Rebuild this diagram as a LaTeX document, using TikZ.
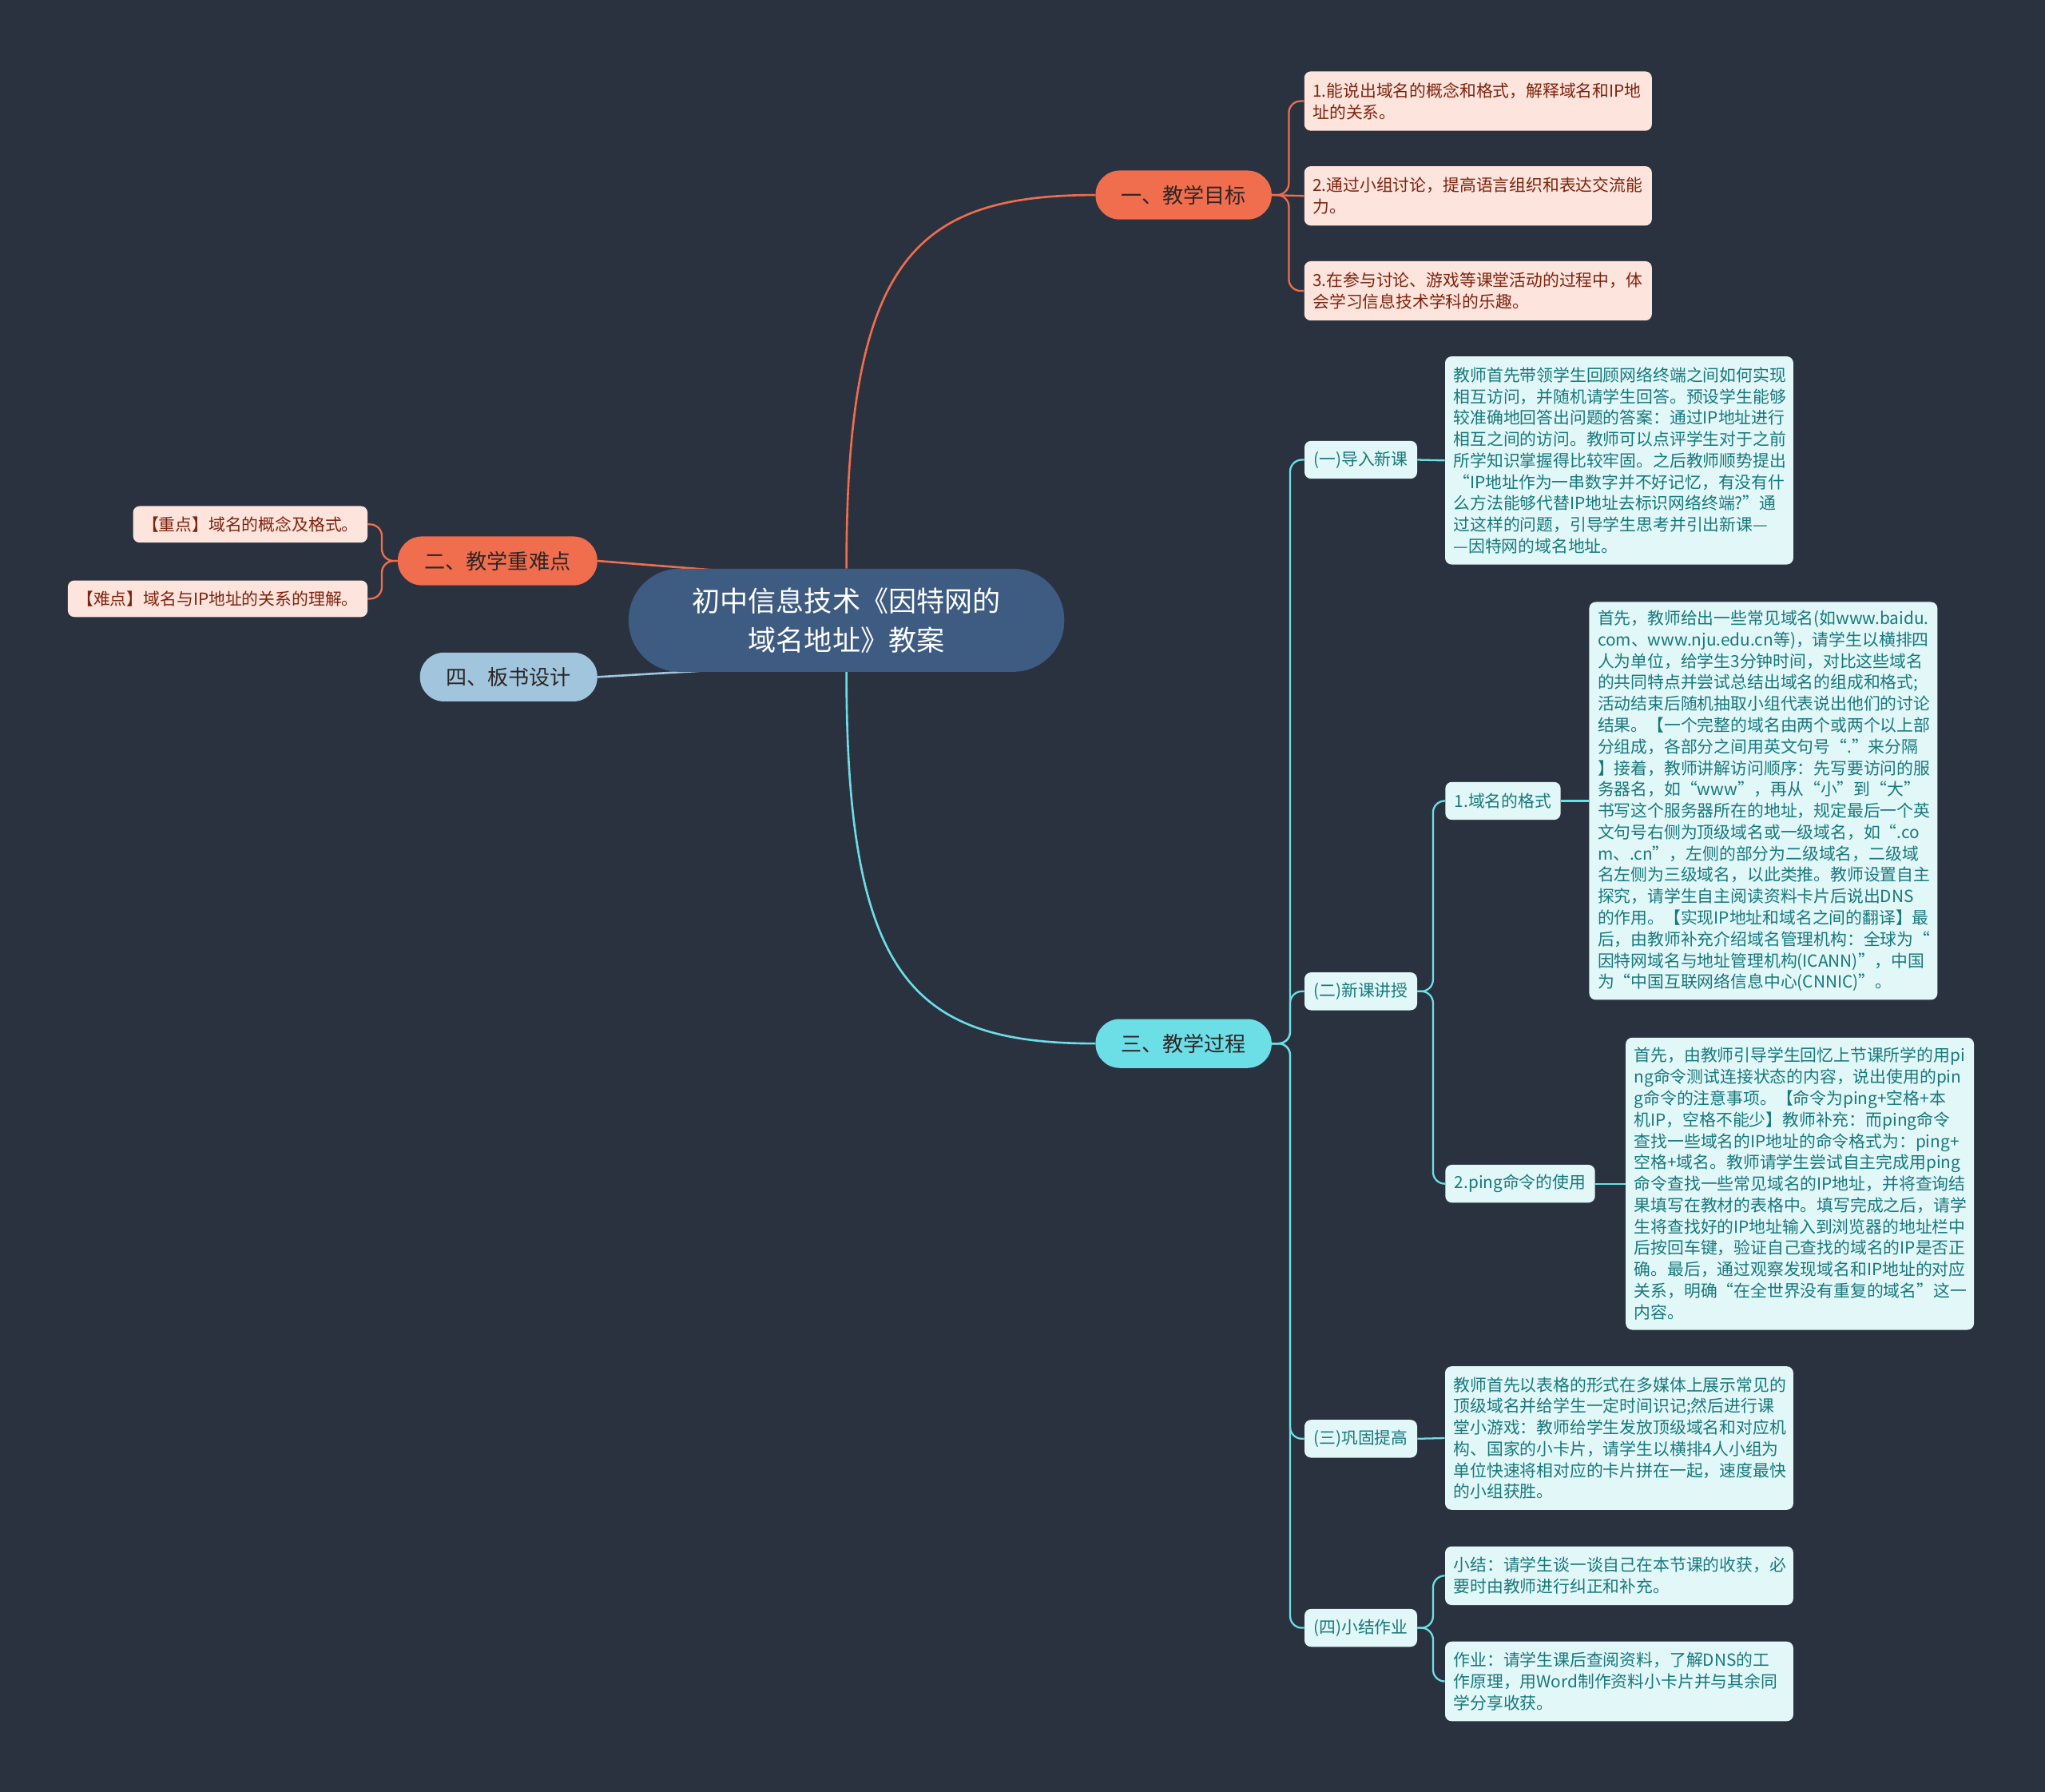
\documentclass[tikz,border=0pt]{standalone}
\usepackage{fontspec}
\setmainfont{Noto Sans CJK SC}
\definecolor{bgc}{RGB}{42,50,64}
\definecolor{ctrfill}{RGB}{62,91,130}
\definecolor{orng}{RGB}{240,109,78}
\definecolor{cyn}{RGB}{108,222,230}
\definecolor{lblue}{RGB}{160,197,221}
\definecolor{pinkfill}{RGB}{253,228,220}
\definecolor{pinktext}{RGB}{125,35,15}
\definecolor{cyanfill}{RGB}{226,247,248}
\definecolor{cyantext}{RGB}{24,120,124}
\definecolor{darktext}{RGB}{45,38,38}
\newcommand\leaffont{\fontsize{12.75pt}{16.4pt}\selectfont}
\newcommand\brfont{\fontsize{16pt}{19pt}\selectfont}
\newcommand\ctrfont{\fontsize{21.5pt}{30pt}\selectfont}
\pgfdeclarelayer{back}
\pgfdeclarelayer{edges}
\pgfsetlayers{back,edges,main}
\begin{document}
\begin{tikzpicture}[x=1pt,y=-1pt,
  leafp/.style={fill=pinkfill,text=pinktext,rounded corners=5pt,inner xsep=6.5pt,inner ysep=0pt,font=\leaffont,align=left,text width=253.5pt,minimum height=#1},
  leafc/.style={fill=cyanfill,text=cyantext,rounded corners=5pt,inner xsep=6.5pt,inner ysep=0pt,font=\leaffont,align=left,text width=254pt,minimum height=#1},
  tagp/.style={fill=pinkfill,text=pinktext,rounded corners=5pt,inner xsep=7pt,inner ysep=0pt,font=\leaffont,minimum height=28pt},
  tagc/.style={fill=cyanfill,text=cyantext,rounded corners=5pt,inner xsep=7pt,inner ysep=0pt,font=\leaffont,minimum height=29pt,minimum width=#1},
  pill/.style={rounded corners=18.5pt,minimum height=37.5pt,inner sep=0pt,font=\brfont,minimum width=#1},
  oline/.style={draw=orng,line width=1.6pt},
  cline/.style={draw=cyn,line width=1.6pt},
  bline/.style={draw=lblue,line width=1.6pt},
  osub/.style={draw=orng,line width=1.4pt,rounded corners=9pt},
  csub/.style={draw=cyn,line width=1.4pt,rounded corners=9pt}
]
\begin{pgfonlayer}{back}
\fill[bgc] (0,0) rectangle (1568,1373.8);
\end{pgfonlayer}
\useasboundingbox (0,0) rectangle (1568,1373.8);

% central
\node[fill=ctrfill,text=white,rounded corners=39pt,minimum width=334pt,minimum height=79pt,inner sep=0pt,font=\ctrfont,align=center] (c) at (649,475.5) {初中信息技术《因特网的\\域名地址》教案};
\coordinate (cA) at (610,442);
\coordinate (cB) at (610,510);

% main branches
\node[pill=135pt,fill=orng,text=darktext] (t1) at (907.5,149.5) {一、教学目标};
\node[pill=153pt,fill=orng,text=darktext] (t2) at (381.5,430) {二、教学重难点};
\node[pill=135pt,fill=cyn,text=darktext] (t3) at (907.5,800) {三、教学过程};
\node[pill=136pt,fill=lblue,text=darktext] (t4) at (390,519) {四、板书设计};

% goals
\node[leafp=45.5pt] (g1) at (1133.3,77.5) {1.能说出域名的概念和格式，解释域名和IP地\\址的关系。};
\node[leafp=45.5pt] (g2) at (1133.3,150.2) {2.通过小组讨论，提高语言组织和表达交流能\\力。};
\node[leafp=45.5pt] (g3) at (1133.3,223) {3.在参与讨论、游戏等课堂活动的过程中，体\\会学习信息技术学科的乐趣。};

% key points
\node[tagp,anchor=east] (k1) at (282,402) {【重点】域名的概念及格式。};
\node[tagp,anchor=east] (k2) at (282,459) {【难点】域名与IP地址的关系的理解。};

% process sub-branches
\node[tagc=85pt,anchor=west] (s1) at (1000,352.5) {(一)导入新课};
\node[tagc=85pt,anchor=west] (s2) at (1000,760) {(二)新课讲授};
\node[tagc=85pt,anchor=west] (s3) at (1000,1103) {(三)巩固提高};
\node[tagc=85pt,anchor=west] (s4) at (1000,1248) {(四)小结作业};
\node[tagc=87pt,anchor=west] (s21) at (1108,614) {1.域名的格式};
\node[tagc=114pt,anchor=west] (s22) at (1108,907.5) {2.ping命令的使用};

% text leaves
\node[leafc=159.5pt] (p1) at (1241.5,353) {教师首先带领学生回顾网络终端之间如何实现\\相互访问，并随机请学生回答。预设学生能够\\较准确地回答出问题的答案：通过IP地址进行\\相互之间的访问。教师可以点评学生对于之前\\所学知识掌握得比较牢固。之后教师顺势提出\\“IP地址作为一串数字并不好记忆，有没有什\\么方法能够代替IP地址去标识网络终端?”通\\过这样的问题，引导学生思考并引出新课—\\—因特网的域名地址。};

\node[leafc=305pt] (p21) at (1352,614) {首先，教师给出一些常见域名(如www.baidu.\\com、www.nju.edu.cn等)，请学生以横排四\\人为单位，给学生3分钟时间，对比这些域名\\的共同特点并尝试总结出域名的组成和格式;\\活动结束后随机抽取小组代表说出他们的讨论\\结果。【一个完整的域名由两个或两个以上部\\分组成，各部分之间用英文句号“.”来分隔\\】接着，教师讲解访问顺序：先写要访问的服\\务器名，如“www”，再从“小”到“大”\\书写这个服务器所在的地址，规定最后一个英\\文句号右侧为顶级域名或一级域名，如“.co\\m、.cn”，左侧的部分为二级域名，二级域\\名左侧为三级域名，以此类推。教师设置自主\\探究，请学生自主阅读资料卡片后说出DNS\\的作用。【实现IP地址和域名之间的翻译】最\\后，由教师补充介绍域名管理机构：全球为“\\因特网域名与地址管理机构(ICANN)”，中国\\为“中国互联网络信息中心(CNNIC)”。};

\node[leafc=224pt] (p22) at (1380,907.5) {首先，由教师引导学生回忆上节课所学的用pi\\ng命令测试连接状态的内容，说出使用的pin\\g命令的注意事项。【命令为ping+空格+本\\机IP，空格不能少】教师补充：而ping命令\\查找一些域名的IP地址的命令格式为：ping+\\空格+域名。教师请学生尝试自主完成用ping\\命令查找一些常见域名的IP地址，并将查询结\\果填写在教材的表格中。填写完成之后，请学\\生将查找好的IP地址输入到浏览器的地址栏中\\后按回车键，验证自己查找的域名的IP是否正\\确。最后，通过观察发现域名和IP地址的对应\\关系，明确“在全世界没有重复的域名”这一\\内容。};

\node[leafc=110pt] (p3) at (1241.5,1102.5) {教师首先以表格的形式在多媒体上展示常见的\\顶级域名并给学生一定时间识记;然后进行课\\堂小游戏：教师给学生发放顶级域名和对应机\\构、国家的小卡片，请学生以横排4人小组为\\单位快速将相对应的卡片拼在一起，速度最快\\的小组获胜。};

\node[leafc=45pt] (p41) at (1241.5,1208) {小结：请学生谈一谈自己在本节课的收获，必\\要时由教师进行纠正和补充。};
\node[leafc=61pt] (p42) at (1241.5,1289) {作业：请学生课后查阅资料，了解DNS的工\\作原理，用Word制作资料小卡片并与其余同\\学分享收获。};

\begin{pgfonlayer}{edges}
% central to main branches
\draw[oline] (c.north) .. controls +(0,-236) and +(-140,0) .. (t1.west);
\draw[cline] (c.south) .. controls +(0,235) and +(-140,0) .. (t3.west);
\draw[oline] (t2.east) -- (cA);
\draw[bline] (t4.east) -- (cB);
% goals
\draw[osub] (t1.east) -- ++(13,0) |- (g1.west);
\draw[osub] (t1.east) -- (g2.west);
\draw[osub] (t1.east) -- ++(13,0) |- (g3.west);
% key points
\draw[osub] (t2.west) -- ++(-12,0) |- (k1.east);
\draw[osub] (t2.west) -- ++(-12,0) |- (k2.east);
% process
\draw[csub] (t3.east) -- ++(14,0) |- (s1.west);
\draw[csub] (t3.east) -- ++(14,0) |- (s2.west);
\draw[csub] (t3.east) -- ++(14,0) |- (s3.west);
\draw[csub] (t3.east) -- ++(14,0) |- (s4.west);
\draw[csub] (s1.east) -- (p1.west);
\draw[csub] (s2.east) -- ++(12,0) |- (s21.west);
\draw[csub] (s2.east) -- ++(12,0) |- (s22.west);
\draw[csub] (s21.east) -- (p21.west);
\draw[csub] (s22.east) -- (p22.west);
\draw[csub] (s3.east) -- (p3.west);
\draw[csub] (s4.east) -- ++(12,0) |- (p41.west);
\draw[csub] (s4.east) -- ++(12,0) |- (p42.west);
\end{pgfonlayer}
\end{tikzpicture}
\end{document}
